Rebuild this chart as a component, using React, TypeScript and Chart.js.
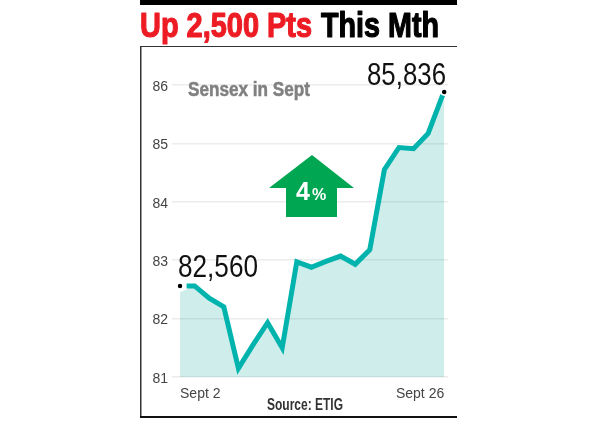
import React, { useEffect, useRef } from "react";
import { Chart, registerables } from "chart.js";

Chart.register(...registerables);

const positions = [0, 1, 2, 3, 4, 5, 6, 7, 8, 9, 10, 11, 12, 13, 14, 15, 16, 17, 18];
const sensexValues = [82.45, 82.56, 82.35, 82.2, 81.15, 81.55, 81.93, 81.5, 82.97, 82.88, 82.98, 83.07, 82.93, 83.18, 84.55, 84.93, 84.91, 85.17, 85.83];
const lineStart = 0.45;
const lineStartValue = 82.56;
const endDots = [
  { x: 0, y: 82.56 },
  { x: 18.1, y: 85.88 },
];
const xTickValues = [0, 18.1];
const xTickLabels = ["Sept 2", "Sept 26"];
const sans = '"Liberation Sans", sans-serif';

const decorations = {
  id: "decorations",
  afterDraw(chart: any) {
    const ctx = chart.ctx;
    ctx.save();
    // frame
    ctx.fillStyle = "#000";
    ctx.fillRect(140, 0, 317, 5);
    ctx.fillStyle = "#333";
    ctx.fillRect(140, 46, 317, 1);
    ctx.fillRect(140, 46, 1.5, 371);
    ctx.fillStyle = "#111";
    ctx.fillRect(140, 416, 317, 2);
    // title
    ctx.textBaseline = "alphabetic";
    ctx.textAlign = "left";
    ctx.lineJoin = "round";
    ctx.font = `bold 35px ${sans}`;
    ctx.lineWidth = 1.2;
    ctx.fillStyle = ctx.strokeStyle = "#ed1c24";
    ctx.fillText("Up 2,500 Pts", 140, 37, 172);
    ctx.strokeText("Up 2,500 Pts", 140, 37, 172);
    ctx.fillStyle = ctx.strokeStyle = "#000";
    ctx.fillText("This Mth", 321, 37, 118);
    ctx.strokeText("This Mth", 321, 37, 118);
    // annotation
    ctx.font = `bold 20px ${sans}`;
    ctx.lineWidth = 0.5;
    ctx.fillStyle = ctx.strokeStyle = "#808080";
    ctx.fillText("Sensex in Sept", 188, 96, 122);
    ctx.strokeText("Sensex in Sept", 188, 96, 122);
    ctx.font = `31px ${sans}`;
    ctx.fillStyle = "#111";
    ctx.fillText("85,836", 367, 85, 79);
    ctx.fillText("82,560", 178, 277, 80);
    // arrow
    ctx.fillStyle = "#00a651";
    ctx.beginPath();
    ctx.moveTo(312, 155);
    ctx.lineTo(354, 188);
    ctx.lineTo(337, 188);
    ctx.lineTo(337, 217);
    ctx.lineTo(286, 217);
    ctx.lineTo(286, 188);
    ctx.lineTo(269, 188);
    ctx.closePath();
    ctx.fill();
    ctx.fillStyle = "#fff";
    ctx.font = `bold 25px ${sans}`;
    ctx.fillText("4", 296, 200);
    ctx.font = `bold 16px ${sans}`;
    ctx.fillText("%", 312, 200, 15);
    // source
    ctx.font = `bold 16px ${sans}`;
    ctx.fillStyle = "#333";
    ctx.fillText("Source: ETIG", 267, 410, 76);
    ctx.restore();
  },
};

export default function App() {
  const ref = useRef<HTMLCanvasElement>(null);
  useEffect(() => {
    const chart = new Chart(ref.current!, {
      type: "line",
      data: {
        datasets: [
          {
            label: "Sensex dots",
            data: endDots,
            showLine: false,
            pointRadius: 3,
            pointBackgroundColor: "#000",
            pointBorderColor: "#fff",
            pointBorderWidth: 1.5,
            order: 0,
          },
          {
            label: "Sensex line",
            data: [
              { x: lineStart, y: lineStartValue },
              ...positions.slice(1).map((x, i) => ({ x, y: sensexValues[i + 1] })),
            ],
            borderColor: "#00b3ad",
            borderWidth: 5,
            borderJoinStyle: "miter",
            borderCapStyle: "butt",
            pointRadius: 0,
            tension: 0,
            fill: false,
            order: 1,
          },
          {
            label: "Sensex area",
            data: positions.map((x, i) => ({ x: x === 18 ? 18.1 : x, y: sensexValues[i] })),
            borderWidth: 0,
            pointRadius: 0,
            tension: 0,
            fill: "start",
            backgroundColor: "rgba(0,160,145,0.19)",
            order: 2,
          },
        ],
      },
      options: {
        responsive: false,
        animation: false,
        devicePixelRatio: 1,
        layout: { padding: { left: 0, top: 85, right: 152, bottom: 0 } },
        plugins: { legend: { display: false }, tooltip: { enabled: false } },
        scales: {
          x: {
            type: "linear",
            min: -0.55,
            max: 18.36,
            grid: { display: false },
            border: { display: false },
            afterBuildTicks(scale: any) {
              scale.ticks = xTickValues.map((value) => ({ value }));
            },
            afterFit(scale: any) {
              scale.height = 48;
            },
            ticks: {
              align: "inner",
              autoSkip: false,
              maxRotation: 0,
              padding: 1,
              color: "#444",
              font: { family: sans, size: 14 },
              callback: (v: any) => xTickLabels[xTickValues.indexOf(v)] ?? "",
            },
          },
          y: {
            min: 81,
            max: 86,
            grid: { color: "#ececec", lineWidth: 1.5, drawTicks: false },
            border: { display: false },
            afterFit(scale: any) {
              scale.width = 172;
            },
            ticks: {
              stepSize: 1,
              padding: 4,
              labelOffset: 2,
              color: "#444",
              font: { family: sans, size: 14 },
            },
          },
        },
      },
      plugins: [decorations],
    } as any);
    return () => chart.destroy();
  }, []);
  return (
    <div style={{ position: "absolute", left: 0, top: 0, width: 600, height: 425, background: "#fff" }}>
      <canvas ref={ref} width={600} height={425} style={{ display: "block" }} />
    </div>
  );
}
